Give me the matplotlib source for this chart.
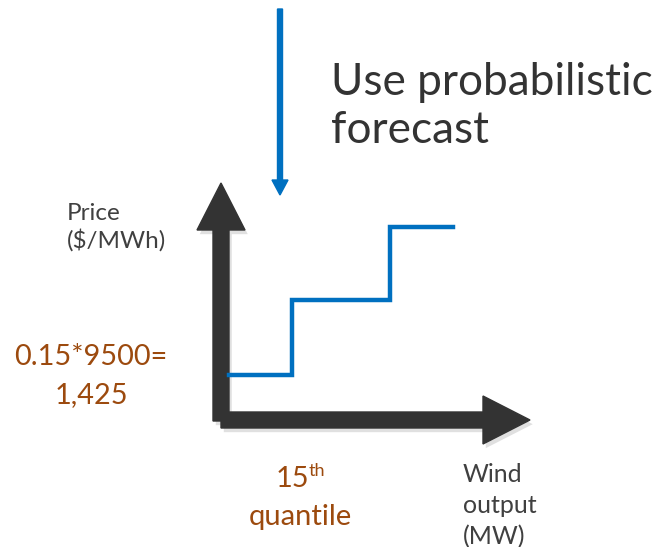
import matplotlib.pyplot as plt
from matplotlib.patches import FancyArrow
import matplotlib.patheffects as pe

# step curve (offer price vs wind output), in diagram units
step_x = [229, 292, 390, 453]
step_y = [375, 300, 227, 227]

title_lines = ['Use probabilistic', 'forecast']
ylabel_lines = ['Price', '($/MWh)']
xlabel_lines = ['Wind', 'output', '(MW)']
price_lines = ['0.15*9500=', '1,425']
quant_base = '15'
quant_sup = 'th'
quant_word = 'quantile'

dark = '#333333'
blue = '#0070C0'
brown = '#9C4A0E'
grey = '#404040'
font = 'Lato'

fig = plt.figure(figsize=(6.56, 5.47), dpi=100)
ax = fig.add_axes([0, 0, 1, 1])
ax.set_xlim(0, 656)
ax.set_ylim(547, 0)
ax.axis('off')

shadow = [pe.SimplePatchShadow(offset=(2, -3), shadow_rgbFace='#999999', alpha=0.3), pe.Normal()]

# axes arrows
ax.add_patch(FancyArrow(221, 421, 0, -238, width=16, head_width=48, head_length=47,
                        length_includes_head=True, color=dark, path_effects=shadow))
ax.add_patch(FancyArrow(221, 420, 309, 0, width=16, head_width=48, head_length=47,
                        length_includes_head=True, color=dark, path_effects=shadow))

# blue arrow from top
ax.add_patch(FancyArrow(280, 9, 0, 186, width=5, head_width=16, head_length=15,
                        length_includes_head=True, color=blue))

ax.step(step_x, step_y, where='post', color=blue, lw=3.2, solid_joinstyle='miter')

for i, s in enumerate(title_lines):
    ax.text(331, 95 + i * 48, s, fontsize=31.8, family=font, color=dark, va='baseline', ha='left')

for i, s in enumerate(ylabel_lines):
    ax.text(67, 220 + i * 28, s, fontsize=17.5, family=font, color=grey, va='baseline', ha='left')

for i, s in enumerate(xlabel_lines):
    ax.text(463, 482 + i * 31, s, fontsize=18, family=font, color=grey, va='baseline', ha='left')

for i, s in enumerate(price_lines):
    ax.text(91, 365 + i * 38, s, fontsize=20.8, family=font, color=brown, va='baseline', ha='center')

ax.text(276, 487, quant_base, fontsize=20.8, family=font, color=brown, va='baseline', ha='left')
ax.text(309, 476, quant_sup, fontsize=13, family=font, color=brown, va='baseline', ha='left')
ax.text(300, 525, quant_word, fontsize=21, family=font, color=brown, va='baseline', ha='center')

fig.savefig('out.png', dpi=100)
